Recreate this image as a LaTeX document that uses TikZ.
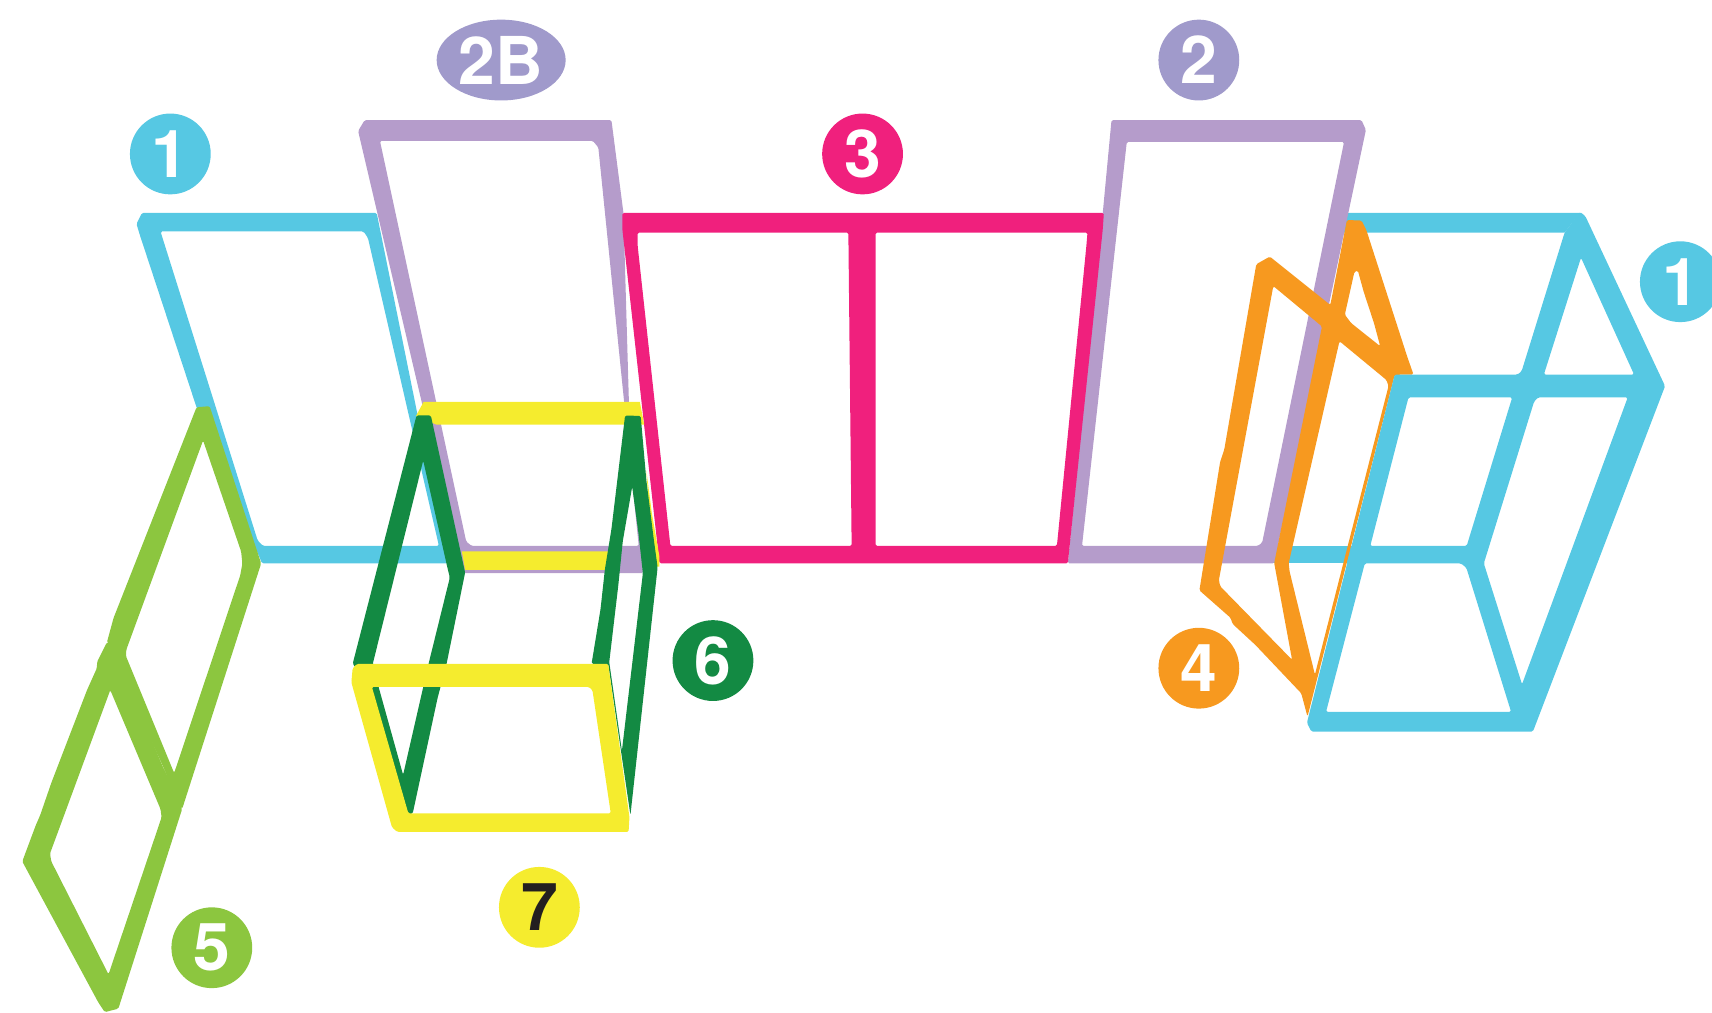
\documentclass[tikz,border=0pt]{standalone}
\usepackage{fontspec}
\setsansfont{TeX Gyre Heros}
\usetikzlibrary{shapes.geometric}
\definecolor{skyblue}{HTML}{56C8E3}
\definecolor{lilac}{HTML}{B59CCB}
\definecolor{lavender}{HTML}{A09ACB}
\definecolor{magenta}{HTML}{F0207D}
\definecolor{lemon}{HTML}{F5EC2E}
\definecolor{forest}{HTML}{138A43}
\definecolor{lime}{HTML}{8CC63F}
\definecolor{amber}{HTML}{F7991F}
\definecolor{ink}{HTML}{231F20}
\tikzset{
  panel/.style={fill=#1, even odd rule, rounded corners=1.5pt},
  badge/.style={circle, fill=#1, minimum size=80.8pt, inner sep=0pt, text=white,
    font=\fontsize{66}{66}\selectfont\sffamily\bfseries},
}

\begin{document}
\begin{tikzpicture}[x=1.0918pt, y=-1.0918pt]
\useasboundingbox (0,0) rectangle (1568,926.9);
\clip (0,0) rectangle (1568,926.9);

% Left wall, back
\fill[panel=skyblue] (130,195) -- (345,195) -- (410,516) -- (240,516) -- (180,373) -- (128,215) -- (125,205) -- cycle
  (147,212) -- (333,212) -- (337,218) -- (402,500) -- (241,500) -- (236,495) -- cycle;

% Right wall, the two bars behind everything
\fill[skyblue] (1225,195) -- (1447,195) -- (1433,213) -- (1225,213) -- cycle;
\fill[skyblue] (1165,500) -- (1260,500) -- (1260,516) -- (1165,516) -- cycle;

% 2B: tall frame on the left
\fill[panel=lilac] (334,110) -- (560,110) -- (571,195) -- (576,368) -- (589,525) -- (423,525) -- (328,120) -- cycle
  (348,129) -- (543,129) -- (548,135) -- (585,500) -- (432,500) -- (427,496) -- cycle;

% 2: tall frame on the right
\fill[panel=lilac] (1018,110) -- (1247,110) -- (1251,119) -- (1167,516) -- (978,516) -- (1010,195) -- cycle
  (1032,130) -- (1231,130) -- (1156,497) -- (1152,500) -- (991,500) -- cycle;

% 3: double frame in the middle
\fill[panel=magenta] (570,195) -- (1011,195) -- (1010,210) -- (978,516) -- (604,516) -- (570,210) -- cycle
  (584,213) -- (777,213) -- (780,500) -- (614,500) -- (584,225) -- cycle
  (802,213) -- (996,213) -- (995,225) -- (968,500) -- (802,500) -- cycle;

% 7: back bars
\fill[lemon] (388,368) -- (586,368) -- (590,389) -- (400,389) -- (381,381) -- cycle;
\fill[lemon] (423,505) -- (557,505) -- (555,522) -- (426,522) -- cycle;
\fill[lemon] (592,431) -- (597,470) -- (604,510) -- (604,519) -- (598,519) -- cycle;

% 6: left leg
\fill[panel=forest] (381.5,380.5) -- (394.6,380.5) -- (426,524.4) -- (409,608) -- (400.7,639.6) -- (378,745)
  -- (374,746) -- (340,629) -- (323,608) -- cycle
  (387.6,421.8) -- (409.7,519.6) -- (412,529) -- (392.5,608) -- (369.2,709.7) -- (346.7,629) -- (341.4,608) -- cycle;

% 6: right leg
\fill[panel=forest] (572.5,380.5) -- (586.8,381) -- (592,440) -- (599,495.6) -- (602.3,519.6) -- (577.4,746.6)
  -- (557,608) -- (541.8,608) -- (550,558) -- (554,521.5) -- (560,484.6) -- cycle
  (579,445.8) -- (584.7,488) -- (588.8,525) -- (569.6,687.6) -- (558,606.4) -- (566.3,536) -- (570.4,495.6) -- cycle;

% 7: front frame
\fill[panel=lemon] (327,608) -- (557,608) -- (576.5,748.5) -- (575.7,762) -- (364,762) -- (359,757.7)
  -- (321.8,625) -- (323,612) -- cycle
  (340.6,629) -- (539,629) -- (542.6,632) -- (559.4,745) -- (374,745) -- cycle;

% 5: upper rhomb
\fill[panel=lime] (180,373) -- (192,372) -- (239.2,516) -- (166.8,741) -- (98,588) -- (104,566) -- cycle
  (186,403.4) -- (220.8,505) -- (222,516) -- (220,527) -- (159.5,708) -- (115.3,600.8) -- (115.7,595) -- cycle;

% 5: lower rhomb
\fill[panel=lime] (98,588) -- (105.5,597) -- (118.6,628.5) -- (130.8,658) -- (149,702) -- (163.6,730) -- (166.8,741)
  -- (108.4,923.8) -- (96,927) -- (90,918) -- (20.4,789) -- (32.7,756) -- (36.8,746.6) -- (47,717)
  -- (79.7,632) -- (88.7,612) -- (89,606) -- cycle
  (101,632) -- (147,741) -- (148,748.5) -- (99.4,892.4) -- (47,789) -- (45.8,781.7) -- cycle;

% 4: folded door
\fill[panel=amber] (1150.6,242) -- (1163,235) -- (1218.4,279.3) -- (1233.6,201.5) -- (1247,202) -- (1251.5,211)
  -- (1288.9,326.8) -- (1294.6,343) -- (1277.4,343.3) -- (1197.5,656.4) -- (1191.8,635) -- (1149.9,590.8)
  -- (1129,571.5) -- (1127,565.8) -- (1098.5,540.7) -- (1117.5,423) -- (1121.3,411.6) -- cycle
  (1166.2,262) -- (1210.8,299) -- (1167,515.7) -- (1183.4,604.3) -- (1117.5,536.9) -- (1116.4,531) -- cycle
  (1240.5,248.9) -- (1243.6,247.7) -- (1248.9,267) -- (1258.4,295.9) -- (1264.1,317.1) -- (1237.5,295.9) -- (1231.7,288.2) -- cycle
  (1226.8,312.5) -- (1269.8,348) -- (1271.7,353.7) -- (1204.3,617.8) -- (1181.1,523.4) -- (1180.3,515.7) -- cycle;

% 1: right wall, front and side
\fill[panel=skyblue] (1277.4,343) -- (1390,343) -- (1393.6,340) -- (1433,213) -- (1447,194) -- (1452,198)
  -- (1525,353.6) -- (1404,670) -- (1201,670) -- (1197,662) -- cycle
  (1448,236) -- (1496.6,343) -- (1414,343) -- cycle
  (1290,364) -- (1385,364) -- (1343.3,500) -- (1255,500) -- cycle
  (1408.6,364) -- (1490.8,364) -- (1394,626.7) -- (1359,516) -- (1405,368) -- cycle
  (1250,516) -- (1338,516) -- (1343,520) -- (1384,652) -- (1214.5,652) -- cycle;

% Number badges
\node[badge=skyblue] (one left) at (156,141) {1};
\node[badge=skyblue] (one right) at (1539,258) {1};
\node[badge=lavender, ellipse, minimum width=129pt, minimum height=80.8pt] (two b) at (459,55) {2B};
\node[badge=lavender] (two) at (1098,55) {2};
\node[badge=magenta] (three) at (790,141) {3};
\node[badge=amber] (four) at (1098,612) {4};
\node[badge=lime] (five) at (194,868) {5};
\node[badge=forest] (six) at (653,605) {6};
\node[badge=lemon, text=ink] (seven) at (494,831) {7};
\end{tikzpicture}
\end{document}
